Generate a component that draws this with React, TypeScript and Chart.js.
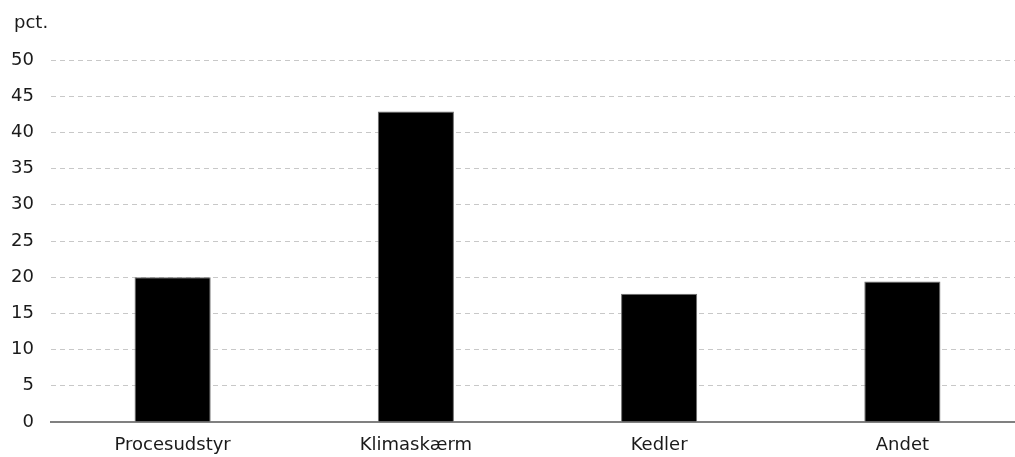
import React, { useEffect, useRef } from "react";
import { Chart, registerables } from "chart.js";

Chart.register(...registerables);

const categories = ["Procesudstyr", "Klimaskærm", "Kedler", "Andet"];
const shares = [20.0, 42.9, 17.7, 19.4];
const yTicks = [0, 5, 10, 15, 20, 25, 30, 35, 40, 45, 50];
const unitLabel = "pct.";

const FONT = "'DejaVu Sans', Verdana, sans-serif";
const TEXT = "#1a1a1a";
const SIZE = 18;

const unitPlugin = {
  id: "unitLabel",
  afterDraw(chart: Chart) {
    const ctx = chart.ctx;
    ctx.save();
    ctx.font = `${SIZE}px ${FONT}`;
    ctx.fillStyle = TEXT;
    ctx.textAlign = "left";
    ctx.textBaseline = "middle";
    ctx.fillText(unitLabel, 14, 23);
    ctx.restore();
  },
};

export default function App() {
  const ref = useRef<HTMLCanvasElement>(null);

  useEffect(() => {
    if (!ref.current) return;
    const chart = new Chart(ref.current, {
      type: "bar",
      data: {
        labels: categories,
        datasets: [
          {
            data: shares,
            backgroundColor: "#000000",
            borderColor: "#6e6e6e",
            borderWidth: 1,
            categoryPercentage: 1,
            barPercentage: 0.313,
          },
        ],
      },
      options: {
        responsive: false,
        animation: false,
        devicePixelRatio: 1,
        layout: { padding: { top: 60, right: 6, left: 0, bottom: 0 } },
        plugins: {
          legend: { display: false },
          tooltip: { enabled: false },
          title: { display: false },
        },
        scales: {
          x: {
            offset: true,
            grid: { display: false, drawTicks: false },
            border: { display: true, color: "#808080", width: 2 },
            ticks: {
              color: TEXT,
              font: { family: FONT, size: SIZE },
              padding: 13,
              maxRotation: 0,
              autoSkip: false,
            },
            afterFit(scale: any) {
              scale.height = 35;
            },
          },
          y: {
            min: 0,
            max: 50,
            afterBuildTicks(scale: any) {
              scale.ticks = yTicks.map((v) => ({ value: v }));
            },
            grid: {
              drawTicks: false,
              color: (c: any) => (c.tick && c.tick.value === 0 ? "rgba(0,0,0,0)" : "#c8c8c8"),
              lineWidth: 1,
            },
            border: { display: false, dash: [5, 4] },
            ticks: {
              color: TEXT,
              font: { family: FONT, size: SIZE },
              padding: 17,
            },
            afterFit(scale: any) {
              scale.width = 51;
            },
          },
        },
      },
      plugins: [unitPlugin],
    });
    return () => chart.destroy();
  }, []);

  return (
    <div
      style={{
        position: "fixed",
        left: 0,
        top: 0,
        width: 1015,
        height: 457,
        overflow: "hidden",
        background: "#ffffff",
      }}
    >
      <canvas ref={ref} width={1030} height={457} />
    </div>
  );
}
